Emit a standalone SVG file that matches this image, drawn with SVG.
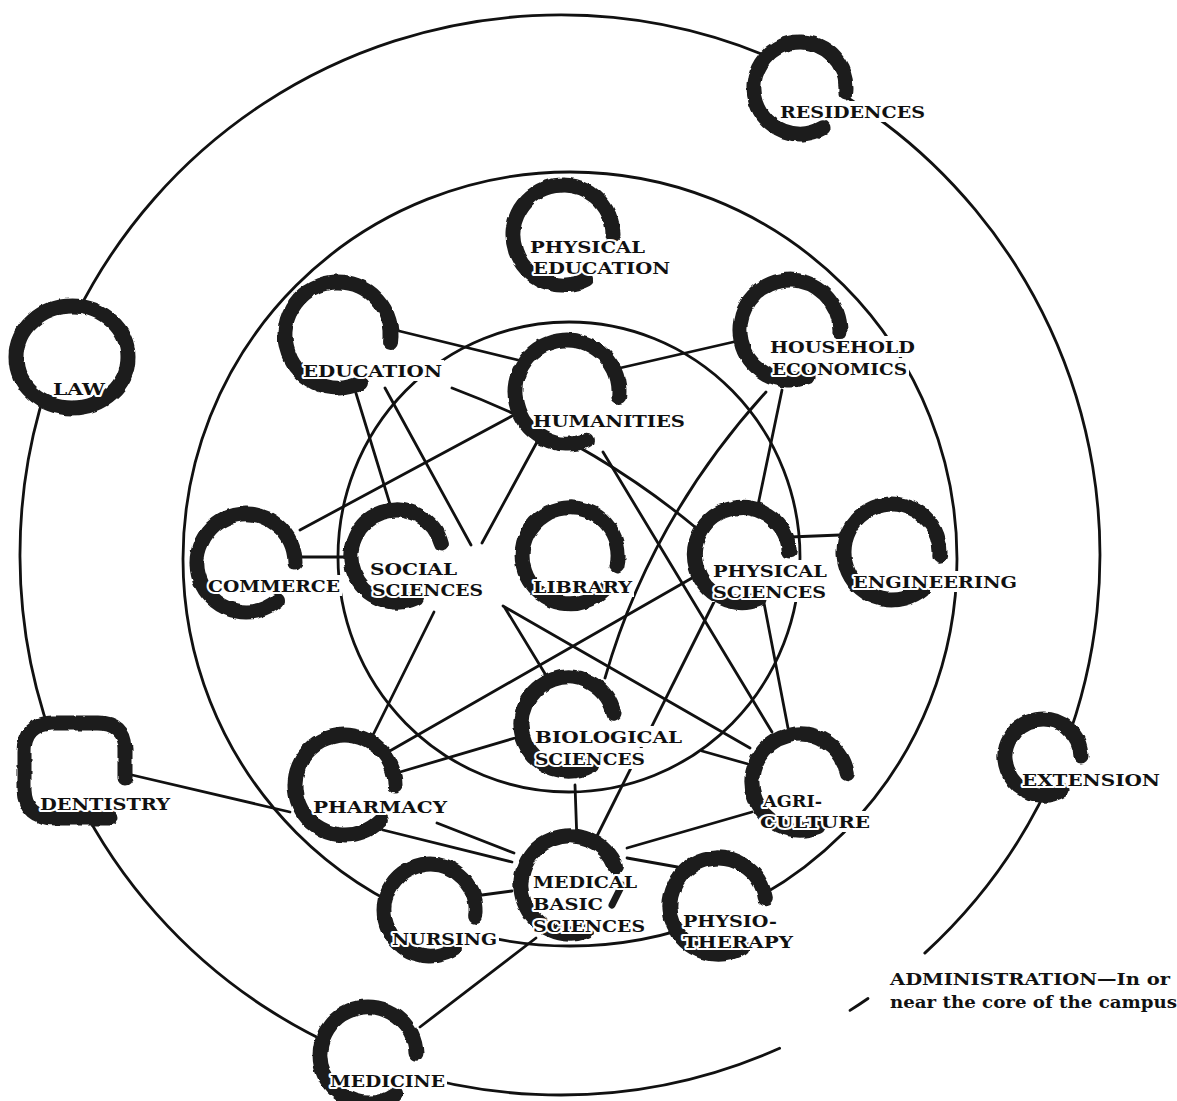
<svg xmlns="http://www.w3.org/2000/svg" width="1177" height="1101" viewBox="0 0 1177 1101">
<defs>
<style>
.ln{fill:none;stroke:#111;stroke-width:2.8;stroke-linecap:round;stroke-linejoin:round}
.ring{fill:none;stroke:#1b1b1b;stroke-width:15;stroke-linecap:round;stroke-linejoin:round;filter:url(#rough)}
.gap{fill:#fff;stroke:none}
.lbl{font-family:"DejaVu Serif","Liberation Serif",serif;font-weight:bold;font-size:17.5px;fill:#111;stroke:#fff;stroke-width:4;stroke-linejoin:round;paint-order:stroke}
</style>
<filter id="rough" x="-20%" y="-20%" width="140%" height="140%">
<feTurbulence type="fractalNoise" baseFrequency="0.09" numOctaves="2" seed="4" result="n"/>
<feDisplacementMap in="SourceGraphic" in2="n" scale="4" xChannelSelector="R" yChannelSelector="G"/>
</filter>
</defs>
<rect width="1177" height="1101" fill="#fff"/>
<g id="connectors">
<path class="ln" d="M924.8,953.1 A540,540 0 1 0 779.6,1048.3"/>
<path class="ln" d="M850,1010.4 A540,540 0 0 0 868,998.5"/>
<circle class="ln" cx="570" cy="559" r="387"/>
<ellipse class="ln" cx="569" cy="557" rx="231" ry="235"/>
<path class="ln" d="M395,330 L522,361"/>
<path class="ln" d="M620,368 L742,340"/>
<path class="ln" d="M355,390 L393,514"/>
<path class="ln" d="M385,388 L471,545"/>
<path class="ln" d="M512,416 L300,530"/>
<path class="ln" d="M452,388 Q590,440 695,527"/>
<path class="ln" d="M537,442 L482,543"/>
<path class="ln" d="M603,452 L772,732"/>
<path class="ln" d="M782,390 L758,505"/>
<path class="ln" d="M766,392 Q650,520 605,678"/>
<path class="ln" d="M790,537 L840,535"/>
<path class="ln" d="M764,603 L788,728"/>
<path class="ln" d="M714,602 L597,836"/>
<path class="ln" d="M702,751 L748,764"/>
<path class="ln" d="M388,752 L692,578"/>
<path class="ln" d="M400,772 L515,738"/>
<path class="ln" d="M434,612 L373,735"/>
<path class="ln" d="M503,606 L750,748"/>
<path class="ln" d="M505,608 L547,677"/>
<path class="ln" d="M132,775 L290,812"/>
<path class="ln" d="M437,823 L514,853"/>
<path class="ln" d="M383,830 L512,862"/>
<path class="ln" d="M482,895 L512,891"/>
<path class="ln" d="M536,938 L420,1027"/>
<path class="ln" d="M575,785 L577,842"/>
<path class="ln" d="M627,848 L752,812"/>
<path class="ln" d="M627,858 L683,868"/>
<path class="ln" d="M300,557 L347,557"/>
</g>
<g id="gaps">
<circle class="gap" cx="800" cy="88" r="49"/>
<circle class="gap" cx="563" cy="235" r="53"/>
<ellipse class="gap" cx="72" cy="357" rx="57" ry="52"/>
<circle class="gap" cx="338" cy="335" r="56"/>
<circle class="gap" cx="567" cy="392" r="55"/>
<circle class="gap" cx="790" cy="330" r="53"/>
<circle class="gap" cx="246" cy="563" r="52"/>
<circle class="gap" cx="397" cy="556" r="49"/>
<circle class="gap" cx="570" cy="556" r="51"/>
<circle class="gap" cx="742" cy="555" r="50"/>
<circle class="gap" cx="892" cy="552" r="51"/>
<circle class="gap" cx="568" cy="724" r="50"/>
<rect class="gap" x="20" y="718" width="110" height="104" rx="20"/>
<circle class="gap" cx="345" cy="785" r="53"/>
<circle class="gap" cx="800" cy="782" r="51"/>
<circle class="gap" cx="1043" cy="757" r="41"/>
<circle class="gap" cx="430" cy="910" r="49"/>
<circle class="gap" cx="570" cy="885" r="52"/>
<circle class="gap" cx="718" cy="906" r="51"/>
<circle class="gap" cx="368" cy="1055" r="51"/>
<rect class="gap" x="778" y="101" width="149" height="21"/>
<rect class="gap" x="528" y="236" width="119" height="21"/>
<rect class="gap" x="531" y="257" width="141" height="21"/>
<rect class="gap" x="51" y="378" width="56" height="21"/>
<rect class="gap" x="301" y="360" width="143" height="21"/>
<rect class="gap" x="531" y="410" width="156" height="21"/>
<rect class="gap" x="768" y="336" width="149" height="21"/>
<rect class="gap" x="770" y="358" width="139" height="21"/>
<rect class="gap" x="206" y="575" width="136" height="21"/>
<rect class="gap" x="368" y="558" width="91" height="21"/>
<rect class="gap" x="370" y="579" width="115" height="21"/>
<rect class="gap" x="531" y="576" width="103" height="21"/>
<rect class="gap" x="711" y="560" width="118" height="21"/>
<rect class="gap" x="711" y="581" width="117" height="21"/>
<rect class="gap" x="851" y="571" width="168" height="21"/>
<rect class="gap" x="533" y="726" width="151" height="21"/>
<rect class="gap" x="533" y="748" width="114" height="21"/>
<rect class="gap" x="38" y="793" width="134" height="21"/>
<rect class="gap" x="311" y="796" width="138" height="21"/>
<rect class="gap" x="761" y="790" width="63" height="21"/>
<rect class="gap" x="758" y="811" width="114" height="21"/>
<rect class="gap" x="1020" y="769" width="142" height="21"/>
<rect class="gap" x="390" y="928" width="109" height="21"/>
<rect class="gap" x="531" y="871" width="108" height="21"/>
<rect class="gap" x="531" y="893" width="74" height="21"/>
<rect class="gap" x="531" y="915" width="116" height="21"/>
<rect class="gap" x="681" y="910" width="98" height="21"/>
<rect class="gap" x="681" y="931" width="114" height="21"/>
<rect class="gap" x="328" y="1070" width="119" height="21"/>
<rect class="gap" x="886" y="966" width="291" height="22"/>
<rect class="gap" x="886" y="990" width="291" height="24"/>
</g>
<g id="node-residences">
<path class="ring" d="M845.8,92 A46,46 0 1 0 823,127.8"/>
<text class="lbl" x="780" y="118" textLength="145" lengthAdjust="spacingAndGlyphs">RESIDENCES</text>
</g>
<g id="node-physical-education">
<path class="ring" d="M613,235 A50,50 0 1 0 586.5,279.1"/>
<text class="lbl" x="530" y="253" textLength="115" lengthAdjust="spacingAndGlyphs">PHYSICAL</text>
<text class="lbl" x="533" y="274" textLength="137" lengthAdjust="spacingAndGlyphs">EDUCATION</text>
</g>
<g id="node-law">
<ellipse class="ring" cx="72" cy="357" rx="56" ry="51"/>
<text class="lbl" x="53" y="395" textLength="52" lengthAdjust="spacingAndGlyphs">LAW</text>
</g>
<g id="node-education">
<path class="ring" d="M390.5,342.4 A53,53 0 1 0 360.4,383"/>
<text class="lbl" x="303" y="377" textLength="139" lengthAdjust="spacingAndGlyphs">EDUCATION</text>
</g>
<g id="node-humanities">
<path class="ring" d="M618.8,396.5 A52,52 0 1 0 586.5,440.2"/>
<text class="lbl" x="533" y="427" textLength="152" lengthAdjust="spacingAndGlyphs">HUMANITIES</text>
</g>
<g id="node-household-economics">
<path class="ring" d="M839.9,332.6 A50,50 0 1 0 807.1,377"/>
<text class="lbl" x="770" y="353" textLength="145" lengthAdjust="spacingAndGlyphs">HOUSEHOLD</text>
<text class="lbl" x="772" y="375" textLength="135" lengthAdjust="spacingAndGlyphs">ECONOMICS</text>
</g>
<g id="node-commerce">
<path class="ring" d="M295,563 A49,49 0 1 0 277.5,600.5"/>
<text class="lbl" x="208" y="592" textLength="132" lengthAdjust="spacingAndGlyphs">COMMERCE</text>
</g>
<g id="node-social-sciences">
<path class="ring" d="M441.4,544.1 A46,46 0 1 0 416.4,597.7"/>
<text class="lbl" x="370" y="575" textLength="87" lengthAdjust="spacingAndGlyphs">SOCIAL</text>
<text class="lbl" x="372" y="596" textLength="111" lengthAdjust="spacingAndGlyphs">SCIENCES</text>
</g>
<g id="node-library">
<path class="ring" d="M617,566 A48,48 0 1 0 603.9,589.9"/>
<text class="lbl" x="533" y="593" textLength="99" lengthAdjust="spacingAndGlyphs">LIBRARY</text>
</g>
<g id="node-physical-sciences">
<path class="ring" d="M789.3,550.9 A47.5,47.5 0 1 0 759,599.3"/>
<text class="lbl" x="713" y="577" textLength="114" lengthAdjust="spacingAndGlyphs">PHYSICAL</text>
<text class="lbl" x="713" y="598" textLength="113" lengthAdjust="spacingAndGlyphs">SCIENCES</text>
</g>
<g id="node-engineering">
<path class="ring" d="M939.8,556.2 A48,48 0 1 0 922.9,588.8"/>
<text class="lbl" x="853" y="588" textLength="164" lengthAdjust="spacingAndGlyphs">ENGINEERING</text>
</g>
<g id="node-biological-sciences">
<path class="ring" d="M614,714.2 A47,47 0 1 0 591.5,764.7"/>
<text class="lbl" x="535" y="743" textLength="147" lengthAdjust="spacingAndGlyphs">BIOLOGICAL</text>
<text class="lbl" x="535" y="765" textLength="110" lengthAdjust="spacingAndGlyphs">SCIENCES</text>
</g>
<g id="node-dentistry">
<path class="ring" d="M125,778 L125,748 Q124,723 98,723 L52,723 Q24,724 24,752 L24,790 Q25,818 55,818 L110,818"/>
<text class="lbl" x="40" y="810" textLength="130" lengthAdjust="spacingAndGlyphs">DENTISTRY</text>
</g>
<g id="node-pharmacy">
<path class="ring" d="M395,785 A50,50 0 1 0 380.4,820.4"/>
<text class="lbl" x="313" y="813" textLength="134" lengthAdjust="spacingAndGlyphs">PHARMACY</text>
</g>
<g id="node-agriculture">
<path class="ring" d="M847.3,773.7 A48,48 0 1 0 818,826.5"/>
<text class="lbl" x="763" y="807" textLength="59" lengthAdjust="spacingAndGlyphs">AGRI-</text>
<text class="lbl" x="760" y="828" textLength="110" lengthAdjust="spacingAndGlyphs">CULTURE</text>
</g>
<g id="node-extension">
<path class="ring" d="M1081,757 A38,38 0 1 0 1062,789.9"/>
<text class="lbl" x="1022" y="786" textLength="138" lengthAdjust="spacingAndGlyphs">EXTENSION</text>
</g>
<g id="node-nursing">
<path class="ring" d="M475.6,916.4 A46,46 0 1 0 454.4,949"/>
<text class="lbl" x="392" y="945" textLength="105" lengthAdjust="spacingAndGlyphs">NURSING</text>
</g>
<g id="node-medical-basic-sciences">
<path class="ring" d="M615.4,866.6 A49,49 0 1 0 586.8,931"/>
<path d="M622,885 L612,905" stroke="#1b1b1b" stroke-width="7" stroke-linecap="round" fill="none"/>
<text class="lbl" x="533" y="888" textLength="104" lengthAdjust="spacingAndGlyphs">MEDICAL</text>
<text class="lbl" x="533" y="910" textLength="70" lengthAdjust="spacingAndGlyphs">BASIC</text>
<text class="lbl" x="533" y="932" textLength="112" lengthAdjust="spacingAndGlyphs">SCIENCES</text>
</g>
<g id="node-physiotherapy">
<path class="ring" d="M765.3,897.7 A48,48 0 1 0 742,947.6"/>
<text class="lbl" x="683" y="927" textLength="94" lengthAdjust="spacingAndGlyphs">PHYSIO-</text>
<text class="lbl" x="683" y="948" textLength="110" lengthAdjust="spacingAndGlyphs">THERAPY</text>
</g>
<g id="node-medicine">
<path class="ring" d="M416,1053.3 A48,48 0 1 0 395.5,1094.3"/>
<text class="lbl" x="330" y="1087" textLength="115" lengthAdjust="spacingAndGlyphs">MEDICINE</text>
</g>
<g id="note-administration">
<text class="lbl" x="890" y="985" textLength="280" lengthAdjust="spacingAndGlyphs">ADMINISTRATION—In or</text>
<text class="lbl" x="890" y="1008" textLength="287" lengthAdjust="spacingAndGlyphs">near the core of the campus</text>
</g>
</svg>
